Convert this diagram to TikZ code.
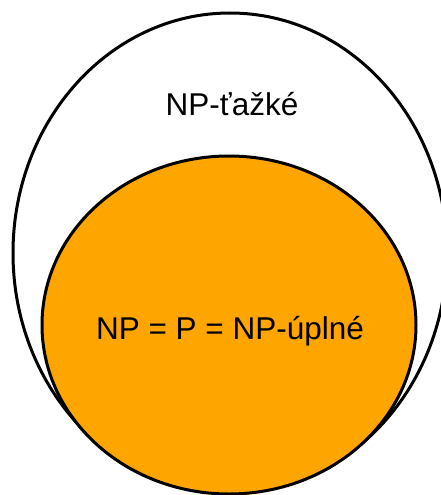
\documentclass[tikz,border=0pt]{standalone}
\usepackage{fontspec}
\setmainfont{Liberation Sans}
\definecolor{setorange}{HTML}{FFA500}
\begin{document}
\begin{tikzpicture}[x=1pt,y=-1pt,
  setline/.style={line width=3pt,draw=black},
  lbl/.style={font=\fontsize{31.5}{36}\selectfont,inner sep=0pt,anchor=base}]
\useasboundingbox (0,0) rectangle (441,495);
\begin{scope}
\clip (0,0) rectangle (441,495);
\draw[setline] (230,253) ellipse [x radius=217, y radius=240];
\filldraw[setline,fill=setorange] (229,325) ellipse [x radius=187, y radius=169];
\end{scope}
\node[lbl] (hard) at (232,115) {NP-ťažké};
\node[lbl] (comp) at (230,339) {NP = P = NP-úplné};
\end{tikzpicture}
\end{document}
